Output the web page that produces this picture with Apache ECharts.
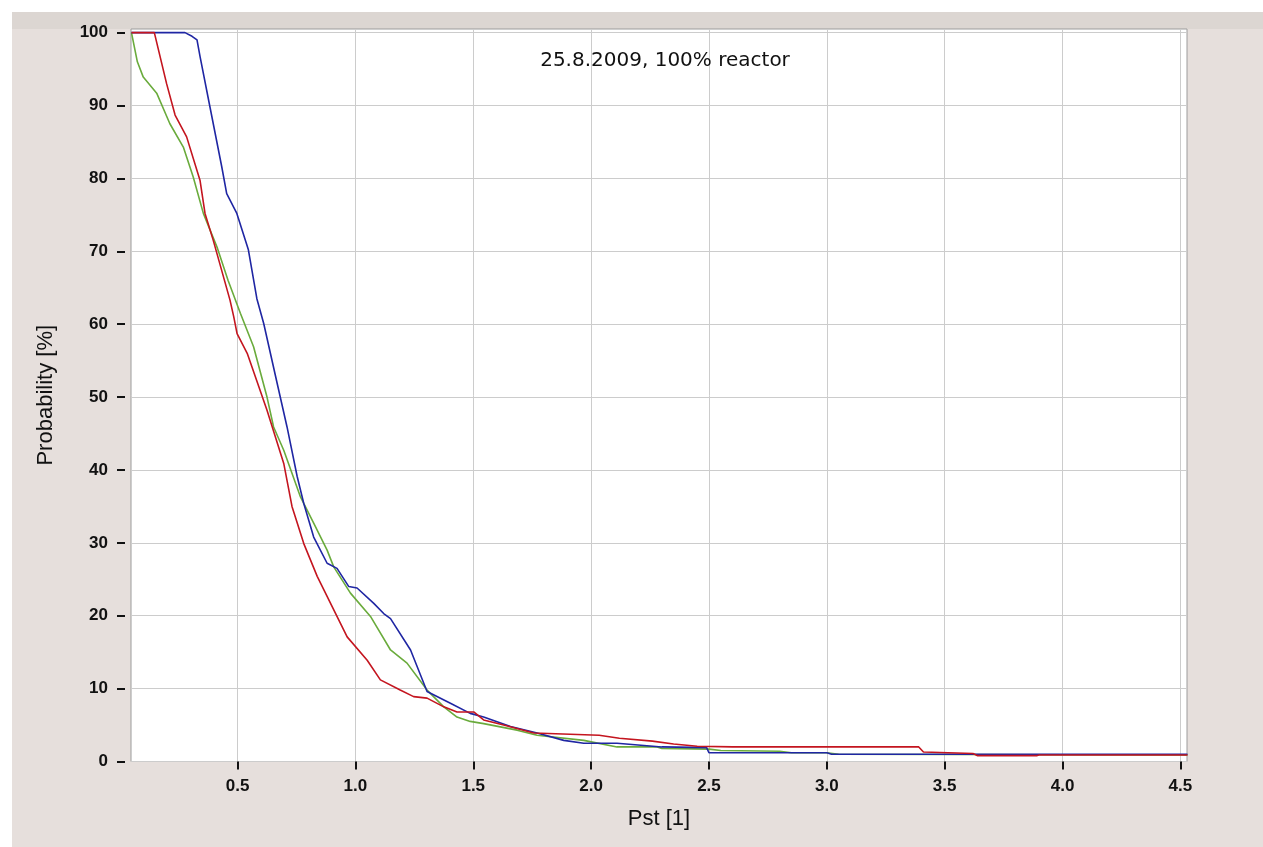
<!DOCTYPE html>
<html>
<head>
<meta charset="utf-8">
<script src="https://cdn.jsdelivr.net/npm/echarts@6/dist/echarts.min.js"></script>
<style>
  html, body { margin: 0; padding: 0; background: #ffffff; }
  #chart { width: 1263px; height: 847px; }
</style>
</head>
<body>
<div id="chart"></div>
<script>
// ---- data ----
const titleText = '25.8.2009, 100% reactor';
const xName = 'Pst [1]';
const yName = 'Probability [%]';
const xTicks = [0.5, 1.0, 1.5, 2.0, 2.5, 3.0, 3.5, 4.0, 4.5];
const yTicks = [0, 10, 20, 30, 40, 50, 60, 70, 80, 90, 100];

const greenPst  = [0.05, 0.075, 0.10, 0.157, 0.213, 0.27, 0.312, 0.355, 0.415, 0.46, 0.512, 0.568, 0.625, 0.653, 0.696, 0.767, 0.823, 0.88, 0.908, 0.979, 1.064, 1.149, 1.219, 1.304, 1.375, 1.431, 1.487, 1.544, 1.686, 1.771, 1.969, 2.11, 2.28, 2.30, 2.50, 2.55, 2.80, 2.85, 3.00, 3.05, 4.53];
const greenProb = [100, 96, 93.9, 91.7, 87.5, 84.3, 80.2, 75.2, 70.4, 66.0, 61.5, 56.9, 50.0, 45.9, 42.7, 36.3, 32.7, 29.0, 26.7, 23.1, 19.9, 15.3, 13.5, 9.8, 7.5, 6.1, 5.5, 5.2, 4.3, 3.6, 2.9, 2.0, 2.0, 1.8, 1.7, 1.5, 1.4, 1.2, 1.2, 1.0, 0.9];

const bluePst  = [0.05, 0.277, 0.307, 0.328, 0.341, 0.383, 0.433, 0.454, 0.497, 0.546, 0.582, 0.611, 0.668, 0.71, 0.753, 0.781, 0.823, 0.88, 0.922, 0.972, 1.007, 1.078, 1.12, 1.149, 1.234, 1.304, 1.403, 1.487, 1.544, 1.658, 1.771, 1.884, 1.969, 2.11, 2.30, 2.49, 2.50, 3.00, 3.02, 4.53];
const blueProb = [100, 100, 99.5, 99.0, 96.7, 89.8, 81.6, 77.9, 75.2, 70.2, 63.5, 60.1, 51.9, 45.9, 39.1, 35.4, 30.8, 27.2, 26.5, 24.0, 23.8, 21.7, 20.3, 19.6, 15.3, 9.6, 8.0, 6.6, 6.1, 4.8, 3.9, 2.9, 2.5, 2.5, 2.0, 1.9, 1.2, 1.2, 1.0, 1.0];

const redPst  = [0.05, 0.147, 0.199, 0.235, 0.284, 0.341, 0.362, 0.397, 0.468, 0.484, 0.498, 0.541, 0.625, 0.696, 0.731, 0.781, 0.838, 0.965, 1.05, 1.106, 1.19, 1.247, 1.304, 1.375, 1.431, 1.502, 1.544, 1.629, 1.757, 2.034, 2.12, 2.26, 2.35, 2.45, 2.60, 3.39, 3.41, 3.62, 3.64, 3.89, 3.90, 4.53];
const redProb = [100, 100, 93.0, 88.7, 85.7, 79.7, 75.2, 71.5, 63.3, 61.0, 58.7, 56.0, 48.2, 40.9, 35.0, 29.9, 25.4, 17.1, 13.9, 11.2, 9.8, 8.9, 8.7, 7.5, 6.8, 6.8, 5.7, 5.0, 3.9, 3.6, 3.2, 2.8, 2.4, 2.1, 2.0, 2.0, 1.3, 1.1, 0.8, 0.8, 0.9, 0.9];

function zip(xs, ys) { return xs.map((x, i) => [x, ys[i]]); }

const chart = echarts.init(document.getElementById('chart'), null, { renderer: 'canvas' });

const tickFont = { fontFamily: 'Liberation Sans', fontWeight: 'bold', fontSize: 17, color: '#111111' };

chart.setOption({
  animation: false,
  backgroundColor: '#ffffff',
  graphic: [
    { type: 'rect', z: -10, shape: { x: 12, y: 12, width: 1251, height: 835 }, style: { fill: '#e6dfdc' } },
    { type: 'rect', z: -9, shape: { x: 12, y: 12, width: 1251, height: 17 }, style: { fill: '#dcd6d2' } },
    { type: 'text', z: 10, x: 665, y: 61,
      style: { text: titleText, fontFamily: 'DejaVu Sans', fontSize: 20, fill: '#111111', textAlign: 'center', textVerticalAlign: 'middle' } }
  ],
  grid: {
    left: 131, right: 76, top: 29, bottom: 85.5,
    show: true, backgroundColor: '#ffffff', borderColor: '#9c9c9c', borderWidth: 1,
    containLabel: false
  },
  xAxis: {
    type: 'value', min: 0.048, max: 4.528, offset: 4,
    name: xName, nameLocation: 'middle', nameGap: 42,
    nameTextStyle: { fontFamily: 'Liberation Sans', fontSize: 22, color: '#111111' },
    axisLine: { show: false },
    axisTick: { show: true, length: 8, inside: false, customValues: xTicks, lineStyle: { color: '#111111', width: 2 } },
    axisLabel: { customValues: xTicks, margin: 12, formatter: v => v.toFixed(1), ...tickFont },
    splitLine: { show: true, lineStyle: { color: '#cccccc', width: 1 } }
  },
  yAxis: {
    type: 'value', min: 0, max: 100.5, offset: 6,
    name: yName, nameLocation: 'middle', nameGap: 68, nameRotate: 90,
    nameTextStyle: { fontFamily: 'Liberation Sans', fontSize: 22, color: '#111111' },
    axisLine: { show: false },
    axisTick: { show: true, length: 8, customValues: yTicks, lineStyle: { color: '#111111', width: 2 } },
    axisLabel: { customValues: yTicks, margin: 17, ...tickFont },
    splitLine: { show: true, lineStyle: { color: '#cccccc', width: 1 } }
  },
  series: [
    { name: 'green', type: 'line', data: zip(greenPst, greenProb), showSymbol: false, symbol: 'none',
      lineStyle: { color: '#6aab3c', width: 1.6 }, itemStyle: { color: '#6aab3c' }, z: 2 },
    { name: 'blue', type: 'line', data: zip(bluePst, blueProb), showSymbol: false, symbol: 'none',
      lineStyle: { color: '#1f26a3', width: 1.6 }, itemStyle: { color: '#1f26a3' }, z: 3 },
    { name: 'red', type: 'line', data: zip(redPst, redProb), showSymbol: false, symbol: 'none',
      lineStyle: { color: '#c4151f', width: 1.6 }, itemStyle: { color: '#c4151f' }, z: 4 }
  ]
});
</script>
</body>
</html>
